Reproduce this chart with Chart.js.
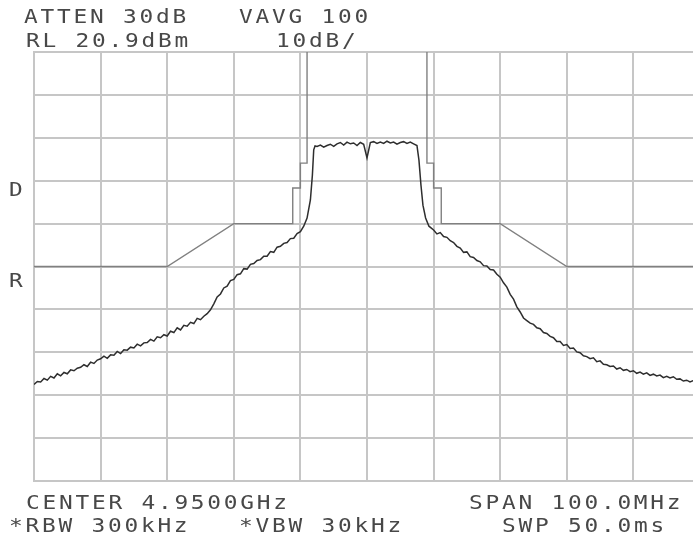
<!DOCTYPE html>
<html>
<head>
<meta charset="utf-8">
<script src="https://cdn.jsdelivr.net/npm/chart.js@4"></script>
<style>
  html, body { margin: 0; padding: 0; background: #fff; overflow: hidden; width: 693px; height: 539px; }
  #wrap { position: absolute; left: 0; top: 0; width: 720px; height: 539px; }
  .lbl {
    position: absolute; white-space: pre; color: #484848;
    font-family: "DejaVu Sans Mono", "Liberation Mono", monospace;
    font-size: 19px; line-height: 19px; letter-spacing: 2.3px;
    transform: scaleX(1.2); transform-origin: 0 0;
  }
</style>
</head>
<body>
<div id="wrap"><canvas id="sa" width="720" height="539"></canvas></div>
<div class="lbl" style="left:24px;top:7px">ATTEN 30dB</div>
<div class="lbl" style="left:239px;top:7px">VAVG 100</div>
<div class="lbl" style="left:26px;top:31px">RL 20.9dBm</div>
<div class="lbl" style="left:276px;top:31px">10dB/</div>
<div class="lbl" style="left:9px;top:180px">D</div>
<div class="lbl" style="left:9px;top:271px">R</div>
<div class="lbl" style="left:26px;top:493px">CENTER 4.9500GHz</div>
<div class="lbl" style="left:469px;top:493px">SPAN 100.0MHz</div>
<div class="lbl" style="left:9px;top:516px">*RBW 300kHz</div>
<div class="lbl" style="left:239px;top:516px">*VBW 30kHz</div>
<div class="lbl" style="left:502px;top:516px">SWP 50.0ms</div>
<script>
// sweep points, MHz
const freqMHz = [
  4900.0, 4900.5, 4901.0, 4901.5, 4902.0, 4902.5, 4903.0, 4903.5, 4904.0, 4904.5,
  4905.0, 4905.5, 4906.0, 4906.5, 4907.0, 4907.5, 4908.0, 4908.5, 4909.0, 4909.5,
  4910.0, 4910.5, 4911.0, 4911.5, 4912.0, 4912.5, 4913.0, 4913.5, 4914.0, 4914.5,
  4915.0, 4915.5, 4916.0, 4916.5, 4917.0, 4917.5, 4918.0, 4918.5, 4919.0, 4919.5,
  4920.0, 4920.5, 4921.0, 4921.5, 4922.0, 4922.5, 4923.0, 4923.5, 4924.0, 4924.5,
  4925.0, 4925.5, 4926.0, 4926.5, 4927.0, 4927.5, 4928.0, 4928.5, 4929.0, 4929.5,
  4930.0, 4930.5, 4931.0, 4931.5, 4932.0, 4932.5, 4933.0, 4933.5, 4934.0, 4934.5,
  4935.0, 4935.5, 4936.0, 4936.5, 4937.0, 4937.5, 4938.0, 4938.5, 4939.0, 4939.5,
  4940.0, 4940.5, 4941.0, 4941.5, 4941.8, 4942.0, 4942.2,
  4942.5, 4943.0, 4943.5, 4944.0, 4944.5, 4945.0, 4945.5, 4946.0, 4946.5, 4947.0,
  4947.5, 4948.0, 4948.5, 4949.0, 4949.5, 4950.0, 4950.5, 4951.0, 4951.5, 4952.0,
  4952.5, 4953.0, 4953.5, 4954.0, 4954.5, 4955.0, 4955.5, 4956.0, 4956.5, 4957.0,
  4957.5, 4957.8, 4958.1, 4958.4, 4958.8, 4959.3,
  4960.0, 4960.5, 4961.0, 4961.5, 4962.0, 4962.5, 4963.0, 4963.5, 4964.0, 4964.5,
  4965.0, 4965.5, 4966.0, 4966.5, 4967.0, 4967.5, 4968.0, 4968.5, 4969.0, 4969.5,
  4970.0, 4970.5, 4971.0, 4971.5, 4972.0, 4972.5, 4973.0, 4973.5, 4974.0, 4974.5,
  4975.0, 4975.5, 4976.0, 4976.5, 4977.0, 4977.5, 4978.0, 4978.5, 4979.0, 4979.5,
  4980.0, 4980.5, 4981.0, 4981.5, 4982.0, 4982.5, 4983.0, 4983.5, 4984.0, 4984.5,
  4985.0, 4985.5, 4986.0, 4986.5, 4987.0, 4987.5, 4988.0, 4988.5, 4989.0, 4989.5,
  4990.0, 4990.5, 4991.0, 4991.5, 4992.0, 4992.5, 4993.0, 4993.5, 4994.0, 4994.5,
  4995.0, 4995.5, 4996.0, 4996.5, 4997.0, 4997.5, 4998.0, 4998.5, 4999.0, 4999.5,
  5000.0
];
// trace level, dBm
const traceDbm = [
  -56.6, -55.9, -56.0, -55.2, -55.6, -54.7, -55.1, -54.1, -54.6, -53.8,
  -54.1, -53.2, -53.4, -52.8, -52.6, -52.0, -52.4, -51.4, -51.7, -50.9,
  -50.6, -50.0, -50.5, -49.7, -49.8, -48.9, -49.4, -48.5, -48.6, -47.9,
  -48.1, -47.2, -47.6, -46.9, -46.8, -46.1, -46.5, -45.5, -45.7, -45.0,
  -45.3, -44.2, -44.5, -43.4, -43.9, -42.8, -43.0, -42.1, -42.4, -41.2,
  -41.5, -40.7, -40.1, -39.2, -37.8, -36.2, -35.5, -34.1, -33.7, -32.4,
  -32.1, -31.0, -30.8, -29.6, -29.7, -28.6, -28.4, -27.7, -27.5, -26.7,
  -26.7, -25.6, -25.8, -24.6, -24.4, -23.7, -23.5, -22.6, -22.5, -21.4,
  -21.0, -19.7, -17.8, -13.6, -7.8, -1.9, -1.0,
  -1.1, -0.8, -1.3, -0.9, -0.6, -1.1, -0.5, -0.2, -0.8, -0.1,
  -0.5, -0.3, -0.9, -0.2, -0.6, -3.8, -0.2, 0.0, -0.4, -0.1,
  -0.4, 0.1, -0.3, -0.1, -0.6, -0.2, 0.0, -0.4, -0.1, -0.5,
  -0.9, -4.3, -10.1, -14.8, -17.8, -19.7,
  -20.6, -21.5, -21.2, -22.1, -22.3, -23.1, -23.5, -24.4, -24.8, -25.8,
  -25.7, -26.8, -27.0, -27.7, -28.0, -28.9, -29.0, -29.8, -29.9, -30.9,
  -31.6, -32.9, -33.9, -35.6, -36.7, -38.5, -39.7, -41.1, -41.7, -42.3,
  -42.6, -43.4, -43.6, -44.5, -44.7, -45.4, -45.7, -46.6, -46.6, -47.5,
  -47.3, -48.2, -48.1, -49.0, -49.2, -49.9, -50.1, -50.6, -50.4, -51.3,
  -51.1, -51.9, -52.0, -52.4, -52.3, -53.0, -52.7, -53.3, -53.1, -53.6,
  -53.4, -54.0, -53.7, -54.2, -53.9, -54.5, -54.2, -54.6, -54.4, -55.0,
  -54.7, -55.1, -54.8, -55.4, -55.3, -55.8, -55.6, -56.0, -55.7, -56.3,
  -56.1
];
// limit mask
const maskLeftMHz = [4900, 4920, 4930, 4938.85, 4938.85, 4940, 4940, 4941, 4941];
const maskLeftDbm = [-29.1, -29.1, -19.1, -19.1, -10.8, -10.8, -5.0, -5.0, 20.9];
const maskRightMHz = [4959, 4959, 4960, 4960, 4961.15, 4961.15, 4970, 4980, 5000];
const maskRightDbm = [20.9, -5.0, -5.0, -10.8, -10.8, -19.1, -19.1, -29.1, -29.1];
// graticule: RL 20.9 dBm, 10 dB/div ; 4900..5000 MHz, 10 MHz/div
const yGridDbm = [20.9, 10.9, 0.9, -9.1, -19.1, -29.1, -39.1, -49.1, -59.1, -69.1, -79.1];
const xGridMHz = [4900, 4910, 4920, 4930, 4940, 4950, 4960, 4970, 4980, 4990, 5000];

const zip = (xs, ys) => xs.map((x, i) => ({ x: x, y: ys[i] }));
const gridColor = '#c6c6c6';

new Chart(document.getElementById('sa'), {
  type: 'line',
  data: {
    datasets: [
      { data: zip(freqMHz, traceDbm), borderColor: '#2e2e2e', borderWidth: 1.5 },
      { data: zip(maskLeftMHz, maskLeftDbm), borderColor: '#808080', borderWidth: 1.4 },
      { data: zip(maskRightMHz, maskRightDbm), borderColor: '#808080', borderWidth: 1.4 }
    ]
  },
  options: {
    responsive: false,
    animation: false,
    parsing: false,
    elements: { point: { radius: 0 }, line: { tension: 0 } },
    layout: { padding: { left: 34, top: 52, right: 20, bottom: 58 } },
    plugins: { legend: { display: false }, tooltip: { enabled: false } },
    scales: {
      x: {
        type: 'linear', min: 4900, max: 5000,
        afterBuildTicks: s => { s.ticks = xGridMHz.map(v => ({ value: v })); },
        afterFit: s => { s.height = 0; },
        ticks: { display: false },
        grid: { color: gridColor, lineWidth: 2, drawTicks: false },
        border: { color: gridColor, width: 2 }
      },
      y: {
        type: 'linear', min: -79.1, max: 20.9,
        afterBuildTicks: s => { s.ticks = yGridDbm.map(v => ({ value: v })); },
        afterFit: s => { s.width = 0; },
        ticks: { display: false },
        grid: { color: gridColor, lineWidth: 2, drawTicks: false },
        border: { color: gridColor, width: 2 }
      }
    }
  }
});
</script>
</body>
</html>
